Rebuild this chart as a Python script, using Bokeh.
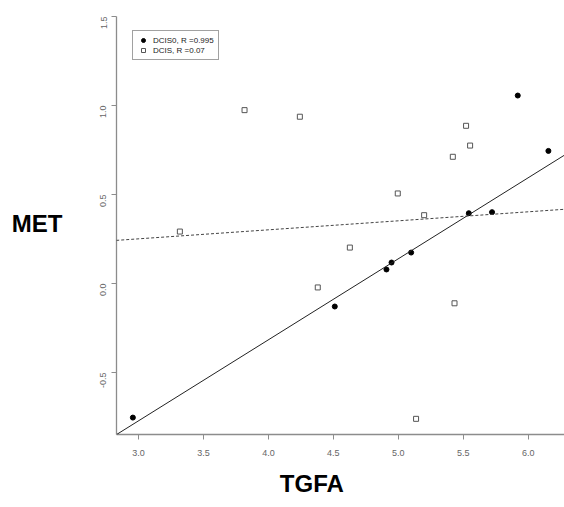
from bokeh.plotting import figure
from bokeh.models import (Range1d, FixedTicker, PrintfTickFormatter, Slope, Legend, LegendItem,
                          LinearAxis)
from bokeh.embed import file_html
from bokeh.resources import INLINE
import math

# DCIS0 (filled circles)
dcis0_x = [2.956, 4.511, 4.909, 4.948, 5.099, 5.543, 5.722, 5.920, 6.156]
dcis0_y = [-0.753, -0.129, 0.079, 0.118, 0.174, 0.395, 0.401, 1.056, 0.745]
# DCIS (open squares)
dcis_x = [3.318, 3.816, 4.242, 4.996, 5.199, 4.627, 4.380, 5.433, 5.522, 5.553, 5.420, 5.137]
dcis_y = [0.292, 0.974, 0.937, 0.506, 0.384, 0.202, -0.022, -0.111, 0.886, 0.775, 0.712, -0.760]
# fitted lines (slope, intercept)
fit_slope = [0.455, 0.0506]
fit_intercept = [-2.136, 0.0993]
legend_labels = ["DCIS0, R =0.995", "DCIS, R =0.07"]
x_ticks = [3.0, 3.5, 4.0, 4.5, 5.0, 5.5, 6.0]
y_ticks = [-0.5, 0.0, 0.5, 1.0, 1.5]
x_title, y_title = "TGFA", "MET"

p = figure(width=564, height=507, output_backend="svg", toolbar_location=None,
           x_range=Range1d(2.83, 6.28), y_range=Range1d(-0.848, 1.5),
           min_border_left=116, min_border_right=0, min_border_top=16, min_border_bottom=73)
p.outline_line_color = None
p.xgrid.visible = False
p.ygrid.visible = False

for ax, ticks in ((p.xaxis, x_ticks), (p.yaxis, y_ticks)):
    ax.ticker = FixedTicker(ticks=ticks)
    ax.formatter = PrintfTickFormatter(format="%.1f")
    ax.axis_line_color = "#8c8c8c"
    ax.axis_line_width = 1.3
    ax.major_tick_line_color = "#8c8c8c"
    ax.major_tick_out = 5
    ax.major_tick_in = 0
    ax.minor_tick_line_color = None
    ax.major_label_text_font = "Liberation Sans"
    ax.major_label_text_font_size = "9px"
    ax.major_label_text_color = "#666666"
p.xaxis.major_label_standoff = 10
p.yaxis.major_label_standoff = 8
p.yaxis.major_label_orientation = math.pi / 2

# title axes placed as single-tick axes
x_center = 4.334
y_center = 0.339
xt = LinearAxis(ticker=FixedTicker(ticks=[x_center]), major_label_overrides={x_center: x_title})
yt = LinearAxis(ticker=FixedTicker(ticks=[y_center]), major_label_overrides={y_center: y_title})
for ax in (xt, yt):
    ax.axis_line_color = None
    ax.major_tick_line_color = None
    ax.minor_tick_line_color = None
    ax.major_label_text_font = "Liberation Sans"
    ax.major_label_text_font_style = "bold"
    ax.major_label_text_font_size = "24px"
    ax.major_label_text_color = "black"
xt.major_label_standoff = 5
yt.major_label_standoff = 26
p.add_layout(xt, "below")
p.add_layout(yt, "left")

l1 = Slope(gradient=fit_slope[0], y_intercept=fit_intercept[0], line_color="#222222", line_width=1)
l2 = Slope(gradient=fit_slope[1], y_intercept=fit_intercept[1], line_color="#444444", line_width=1, line_dash="3 2")
p.add_layout(l1)
p.add_layout(l2)

r0 = p.scatter(dcis0_x, dcis0_y, marker="circle", size=5, fill_color="black", line_color="black")
r1 = p.scatter(dcis_x, dcis_y, marker="square", size=5, fill_color="white", line_color="#555555", line_width=1)

leg = Legend(items=[LegendItem(label=legend_labels[0], renderers=[r0]),
                    LegendItem(label=legend_labels[1], renderers=[r1])],
             location=(16, 374))
leg.label_text_font = "Liberation Sans"
leg.label_text_font_size = "8px"
leg.label_text_color = "#222222"
leg.label_height = 10
leg.glyph_height = 10
leg.glyph_width = 12
leg.label_standoff = 4
leg.spacing = 0
leg.padding = 4
leg.margin = 0
leg.border_line_color = "#444444"
leg.border_line_width = 1
leg.background_fill_alpha = 1
p.add_layout(leg)

open("out.html", "w").write(file_html(p, INLINE))
